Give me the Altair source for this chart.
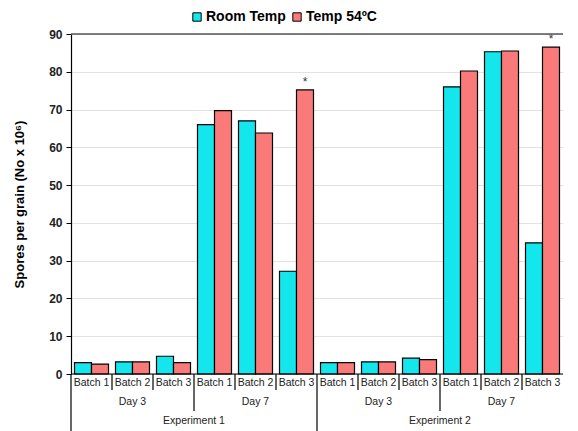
import altair as alt
import pandas as pd

experiments = ["Experiment 1", "Experiment 2"]
days = ["Day 3", "Day 7"]
batches = ["Batch 1", "Batch 2", "Batch 3"]
series = ["Room Temp", "Temp 54ºC"]
colors = ["#14e6ee", "#fa7a7a"]

room_temp = [3.0, 3.2, 4.7, 66.0, 67.0, 27.2, 3.0, 3.2, 4.2, 76.0, 85.3, 34.7]
temp_54 = [2.6, 3.2, 3.0, 69.7, 63.8, 75.2, 3.0, 3.2, 3.8, 80.2, 85.5, 86.5]
star_54 = ["", "", "", "", "", "*", "", "", "", "", "", "*"]
y_ticks = [0, 10, 20, 30, 40, 50, 60, 70, 80, 90]

groups = []
for e in experiments:
    for d in days:
        for b in batches:
            groups.append((e, d, b))
# keys sort naturally (ascending) in display order
keys = [f"{e}|{d}|{b}" for e, d, b in groups]

room_df = pd.DataFrame({"key": keys, "series": series[0], "value": room_temp})
temp_df = pd.DataFrame({"key": keys, "series": series[1], "value": temp_54, "star": star_54})

lab_df = pd.DataFrame({"key": keys, "batch": [g[2] for g in groups]})
day_df = pd.DataFrame({"key": [k for k, g in zip(keys, groups) if g[2] == "Batch 2"],
                       "day": [g[1] for g in groups if g[2] == "Batch 2"]})
exp_df = pd.DataFrame({"key": [k for k, g in zip(keys, groups) if g[1] == "Day 7" and g[2] == "Batch 1"],
                       "exp": [g[0] for g in groups if g[1] == "Day 7" and g[2] == "Batch 1"]})

sep_len = []
for e, d, b in groups:
    if d == "Day 3" and b == "Batch 1":
        sep_len.append(120)
    elif b == "Batch 1":
        sep_len.append(37)
    else:
        sep_len.append(16)
sep_df = pd.DataFrame({"key": keys, "len": sep_len})

FONT = "Liberation Sans"
H = 340
W = 492
BW = 17.0

xscale = alt.Scale(paddingInner=0, paddingOuter=0)
xenc = alt.X("key:N", scale=xscale, axis=None)
xstart = alt.X("key:N", scale=xscale, axis=None, bandPosition=0)
y_axis = alt.Axis(values=y_ticks, title="Spores per grain (No x 10⁶)",
                  titleFont=FONT, titleFontSize=13, titleFontWeight="bold",
                  titleColor="black", titlePadding=22,
                  labelFont=FONT, labelFontSize=12, labelFontWeight="bold",
                  labelColor="#222", labelPadding=4,
                  grid=True, gridColor="#e2e2e2", domainColor="black",
                  domainWidth=1.2, tickColor="black", tickSize=5)
yscale = alt.Scale(domain=[0, 90], nice=False)
yenc = alt.Y("value:Q", scale=yscale, axis=y_axis)
cenc = alt.Color("series:N", scale=alt.Scale(domain=series, range=colors),
                 legend=alt.Legend(orient="none", legendX=119, legendY=-24,
                                   direction="horizontal", title=None,
                                   symbolType="square", symbolSize=70,
                                   symbolStrokeColor="black", symbolStrokeWidth=1,
                                   labelFont=FONT, labelFontSize=14,
                                   labelFontWeight="bold", labelColor="black",
                                   columnPadding=4, labelOffset=2))

room_bars = alt.Chart(room_df).mark_bar(stroke="black", strokeWidth=1.2, width=BW, xOffset=-BW / 2).encode(
    x=xenc, y=yenc, color=cenc)
temp_bars = alt.Chart(temp_df).mark_bar(stroke="black", strokeWidth=1.2, width=BW, xOffset=BW / 2).encode(
    x=xenc, y=yenc, color=cenc)

stars = alt.Chart(temp_df).mark_text(dy=-8, xOffset=BW / 2, fontSize=12, font=FONT, color="#333").encode(
    x=xenc, y=yenc, text="star:N")

top_line = alt.Chart(pd.DataFrame({"value": [90]})).mark_rule(color="#555", strokeWidth=1.5).encode(
    y=yenc)
base_line = alt.Chart(pd.DataFrame({"value": [0]})).mark_rule(color="black", strokeWidth=1.2).encode(
    y=yenc)

sep_layers = []
for ln in [16, 37, 120]:
    sub = sep_df[sep_df["len"] == ln]
    sep_layers.append(
        alt.Chart(sub).mark_rule(color="black", strokeWidth=1.2).encode(
            x=xstart, y=alt.value(H), y2=alt.value(H + ln))
    )

batch_text = alt.Chart(lab_df).mark_text(font=FONT, fontSize=10.5, color="#222", baseline="middle").encode(
    x=xenc, y=alt.value(H + 9), text="batch:N")
day_text = alt.Chart(day_df).mark_text(font=FONT, fontSize=10.5, color="#222", baseline="middle").encode(
    x=xenc, y=alt.value(H + 28), text="day:N")
exp_text = alt.Chart(exp_df).mark_text(font=FONT, fontSize=10.5, color="#222", baseline="middle").encode(
    x=xstart, y=alt.value(H + 47), text="exp:N")

chart = alt.layer(room_bars, temp_bars, stars, top_line, base_line, *sep_layers,
                  batch_text, day_text, exp_text).properties(
    width=W, height=H, padding={"left": 5, "top": 2, "right": 2, "bottom": 0}
).configure_view(strokeOpacity=0)

chart.save("out.html", embed_options={"renderer": "svg", "actions": False})
